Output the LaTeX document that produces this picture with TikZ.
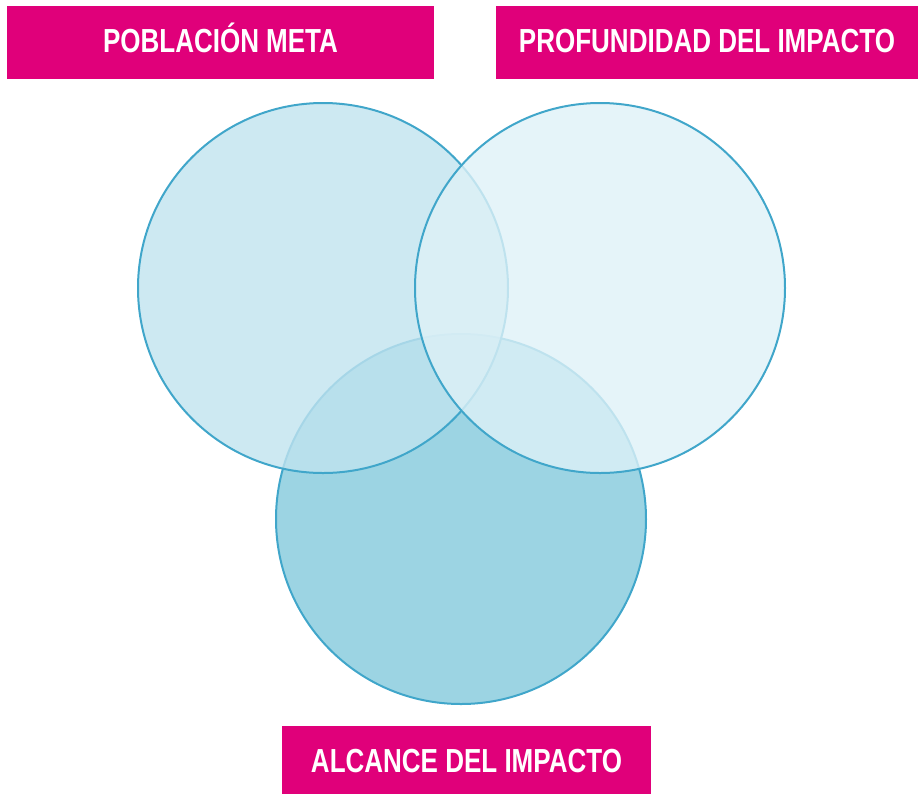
\documentclass[tikz,border=0pt]{standalone}
\usepackage{fontspec}
\setmainfont{Liberation Sans}[FakeStretch=0.78]
\usepackage{tikz}
\usetikzlibrary{shapes, positioning}

\definecolor{magentabox}{RGB}{224,0,122}
\definecolor{ringline}{RGB}{64,166,202}
\definecolor{fillpob}{RGB}{192,227,239}
\definecolor{fillprof}{RGB}{222,241,247}
\definecolor{fillalc}{RGB}{156,212,227}

\begin{document}
\begin{tikzpicture}[
        x=0.75pt, y=-0.75pt,
        ring/.style={circle, draw=ringline, line width=1.5pt, minimum size=277.5pt, inner sep=0pt},
        tag/.style={rectangle, fill=magentabox, text=white, font=\bfseries\fontsize{25}{28}\selectfont, inner sep=0pt, text height=18pt, text depth=0pt, minimum height=54.75pt, align=center}
    ]
        \useasboundingbox (0,0) rectangle (918,794);

        % Circles
        \node[ring, fill=fillalc] (alc) at (461,519) {};
        \node[ring, fill=fillpob, fill opacity=0.8] (pob) at (323,288) {};
        \node[ring, fill=fillprof, fill opacity=0.8] (prof) at (600,288) {};

        % Labels
        \node[tag, minimum width=320.25pt, text depth=3pt] (tpob) at (220.5,42.5) {POBLACIÓN META};
        \node[tag, minimum width=316.5pt, text depth=3pt] (tprof) at (707,42.5) {PROFUNDIDAD DEL IMPACTO};
        \node[tag, minimum width=276.75pt, minimum height=51pt] (talc) at (466.5,760) {ALCANCE DEL IMPACTO};

    \end{tikzpicture}
\end{document}
